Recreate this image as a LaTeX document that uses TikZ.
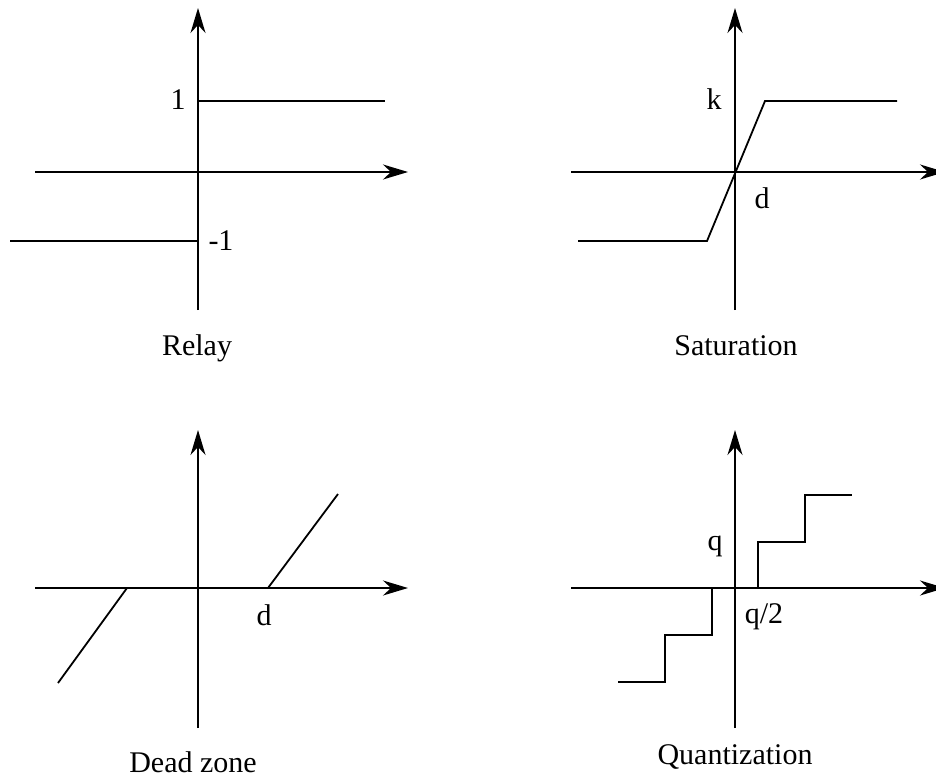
\documentclass[tikz,border=0pt]{standalone}
\usepackage{fontspec}
\setmainfont{Liberation Serif}
\usetikzlibrary{arrows.meta}
\begin{document}
\begin{tikzpicture}[x=1pt,y=-1pt,
  axis/.style={line width=1.8pt,-{Stealth[length=25pt,width=15pt,inset=8pt]}},
  curve/.style={line width=1.8pt},
  lbl/.style={font=\fontsize{30}{34}\selectfont,inner sep=0pt,anchor=base}]
\useasboundingbox (0,0) rectangle (936,778);
\clip (0,0) rectangle (936,778);
% Relay
\draw[axis] (198,310) -- (198,8);
\draw[axis] (35,172) -- (408,172);
\draw[curve] (198,101) -- (385,101);
\draw[curve] (10,241) -- (198,241);
\node[lbl] (r1) at (178,110) {1};
\node[lbl] (rm1) at (221,250) {-1};
\node[lbl] (relay) at (197,355) {Relay};
% Saturation
\draw[axis] (735,310) -- (735,8);
\draw[axis] (571,172) -- (945,172);
\draw[curve] (578,241) -- (707,241) -- (765,101) -- (897,101);
\node[lbl] (sk) at (714,110) {k};
\node[lbl] (sd) at (762,208) {d};
\node[lbl] (sat) at (736,355) {Saturation};
% Dead zone
\draw[axis] (198,728) -- (198,430);
\draw[axis] (35,588) -- (408,588);
\draw[curve] (58,683) -- (127,588) -- (268,588) -- (338,494);
\node[lbl] (dd) at (264,625) {d};
\node[lbl] (dz) at (193,772) {Dead zone};
% Quantization
\draw[axis] (735,728) -- (735,430);
\draw[axis] (571,588) -- (945,588);
\draw[curve] (618,682) -- (665,682) -- (665,635) -- (712,635) -- (712,588)
  -- (758,588) -- (758,542) -- (805,542) -- (805,495) -- (852,495);
\node[lbl] (qq) at (715,550) {q};
\node[lbl] (qh) at (764,623) {q/2};
\node[lbl] (qz) at (735,764) {Quantization};
\end{tikzpicture}
\end{document}
